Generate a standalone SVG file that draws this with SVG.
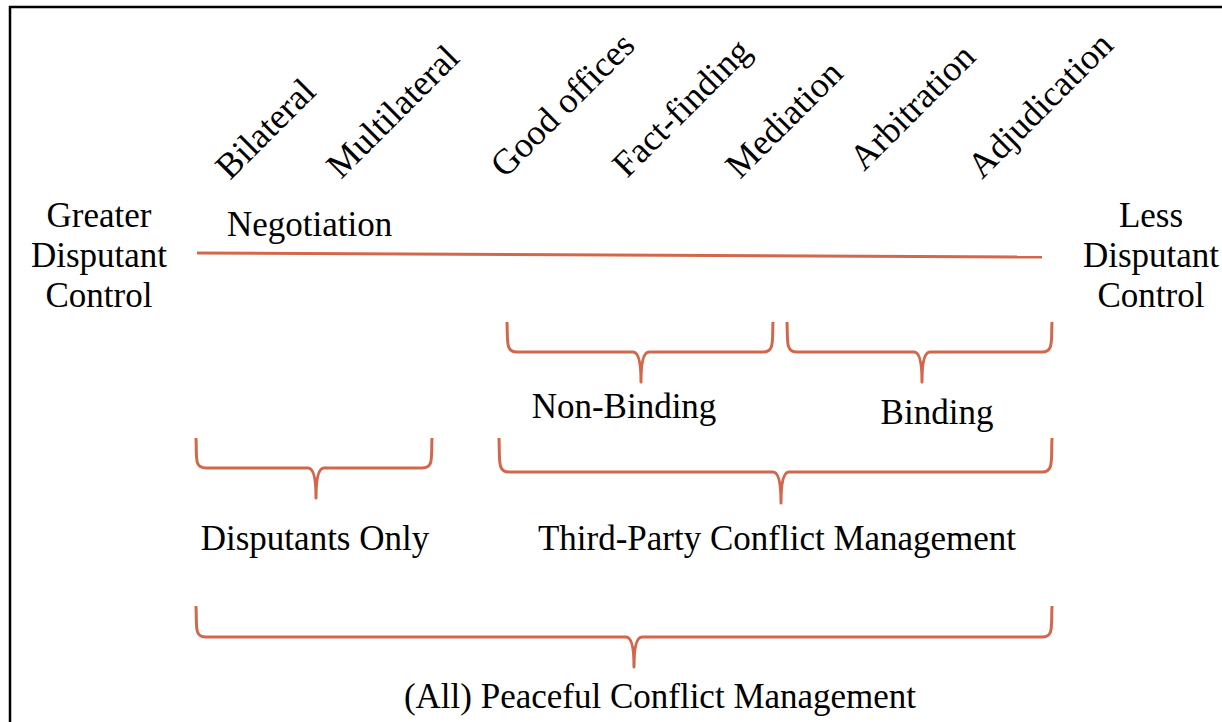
<svg xmlns="http://www.w3.org/2000/svg" width="1222" height="722" viewBox="0 0 1222 722">
<style>
text{font-family:"Liberation Serif","Times New Roman",serif;font-size:35px;fill:#000}
.r{font-size:36px}
.c{text-anchor:middle}
.br{fill:none;stroke:#D2674B;stroke-width:3;stroke-linecap:butt;stroke-linejoin:round}
</style>
<rect x="0" y="0" width="1222" height="722" fill="#fff"/>
<path d="M10 722 V7 H1222" fill="none" stroke="#000" stroke-width="2.5"/>
<g id="labels-top">
<text class="r" transform="translate(230,181) rotate(-45)">Bilateral</text>
<text class="r" transform="translate(341,180) rotate(-45)">Multilateral</text>
<text class="r" transform="translate(505,179) rotate(-45)">Good offices</text>
<text class="r" transform="translate(627,179) rotate(-45)">Fact-finding</text>
<text class="r" transform="translate(740,180) rotate(-45)">Mediation</text>
<text class="r" transform="translate(864,172) rotate(-45)">Arbitration</text>
<text class="r" transform="translate(982,180) rotate(-45)">Adjudication</text>
</g>
<g id="greater">
<text class="c" x="99" y="227">Greater</text>
<text class="c" x="99" y="267">Disputant</text>
<text class="c" x="99" y="307">Control</text>
</g>
<g id="less">
<text class="c" x="1151" y="227">Less</text>
<text class="c" x="1151" y="267">Disputant</text>
<text class="c" x="1151" y="307">Control</text>
</g>
<g id="negotiation"><text x="227" y="236">Negotiation</text></g>
<g id="connectors">
<line class="br" x1="197" y1="253" x2="1042" y2="257"/>
<path id="brace-nonbinding" class="br" d="M507 322 C508 340 505 352 517 352 H633 Q641 352 641 382 Q641 352 649 352 H763 C775 352 772 340 773 322"/>
<path id="brace-binding" class="br" d="M787 322 C788 340 785 352 797 352 H914 Q922 352 922 382 Q922 352 930 352 H1042 C1054 352 1051 340 1052 322"/>
<path id="brace-disputants" class="br" d="M196 438 C197 458 194 468 206 468 H308 Q316 468 316 498 Q316 468 324 468 H422 C434 468 431 458 432 438"/>
<path id="brace-third" class="br" d="M499 438 C500 460 497 472 509 472 H773 Q781 472 781 503 Q781 472 789 472 H1042 C1054 472 1051 460 1052 438"/>
<path id="brace-all" class="br" d="M196 606 C197 627 194 637 206 637 H626 Q634 637 634 667 Q634 637 642 637 H1042 C1054 637 1051 627 1052 606"/>
</g>
<g id="nonbinding"><text class="c" x="624" y="418">Non-Binding</text></g>
<g id="binding"><text class="c" x="937" y="424">Binding</text></g>
<g id="disputants-only"><text class="c" x="315" y="550">Disputants Only</text></g>
<g id="third-party"><text class="c" x="777" y="550">Third-Party Conflict Management</text></g>
<g id="all-peaceful"><text class="c" x="660" y="708">(All) Peaceful Conflict Management</text></g>
</svg>
